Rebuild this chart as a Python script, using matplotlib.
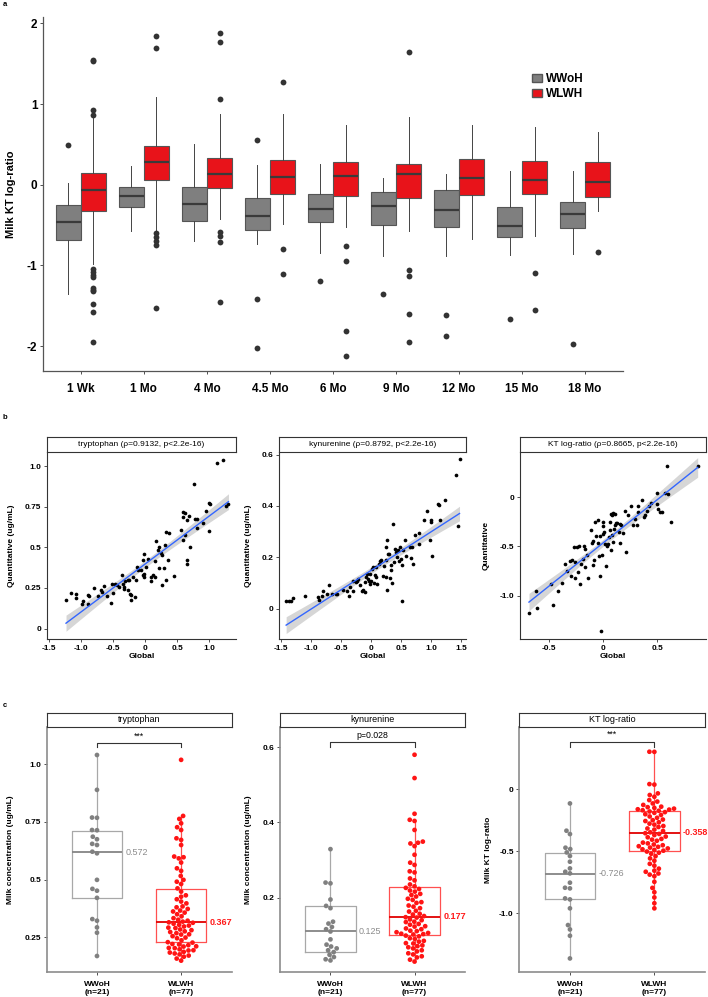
import numpy as np
import matplotlib
matplotlib.use("Agg")
import matplotlib.pyplot as plt
import matplotlib.font_manager as fm
from matplotlib.patches import Patch
import seaborn as sns

names = {f.name for f in fm.fontManager.ttflist}
fam = 'Liberation Sans Narrow' if 'Liberation Sans Narrow' in names else 'Liberation Sans'
plt.rcParams['font.family'] = [fam, 'DejaVu Sans']
plt.rcParams['axes.unicode_minus'] = False

# ---- panel a: box stats per timepoint ----
timepoints = ['1 Wk', '1 Mo', '4 Mo', '4.5 Mo', '6 Mo', '9 Mo', '12 Mo', '15 Mo', '18 Mo']
wwoh_q1 = [-0.69, -0.28, -0.45, -0.56, -0.46, -0.50, -0.52, -0.65, -0.54]
wwoh_med = [-0.46, -0.14, -0.24, -0.39, -0.30, -0.26, -0.31, -0.51, -0.36]
wwoh_q3 = [-0.25, -0.03, -0.03, -0.16, -0.12, -0.09, -0.07, -0.28, -0.21]
wwoh_lo = [-1.36, -0.58, -0.70, -0.74, -0.85, -0.88, -0.88, -0.87, -0.86]
wwoh_hi = [0.02, 0.23, 0.51, 0.24, 0.26, 0.08, 0.13, 0.17, 0.17]
wwoh_out = [[0.49], [], [], [0.56, -1.42, -2.03], [-1.19], [-1.36], [-1.62, -1.87], [-1.66], [-1.97]]
wlwh_q1 = [-0.32, 0.06, -0.04, -0.11, -0.14, -0.16, -0.13, -0.12, -0.15]
wlwh_med = [-0.07, 0.28, 0.13, 0.10, 0.11, 0.13, 0.08, 0.06, 0.04]
wlwh_q3 = [0.14, 0.48, 0.33, 0.31, 0.28, 0.26, 0.32, 0.29, 0.28]
wlwh_lo = [-0.98, -0.57, -0.42, -0.49, -0.52, -0.58, -0.67, -0.63, -0.33]
wlwh_hi = [0.83, 1.09, 0.88, 0.88, 0.74, 0.84, 0.74, 0.71, 0.66]
wlwh_out = [[0.87, 0.93, 1.53, 1.55, -1.05, -1.08, -1.12, -1.15, -1.28, -1.30, -1.32, -1.48, -1.58, -1.95],
            [1.70, 1.85, -0.60, -0.65, -0.70, -0.75, -1.53],
            [1.06, 1.77, 1.88, -0.59, -0.64, -0.71, -1.46],
            [1.28, -0.80, -1.11],
            [-0.76, -0.95, -1.82, -2.12],
            [1.64, -1.06, -1.13, -1.60, -1.95],
            [],
            [-1.10, -1.55],
            [-0.84]]

# ---- panel b: global vs quantitative ----
trp_x = [-1.238, -1.164, -1.085, -1.085, -0.989, -0.974, -0.899, -0.884, -0.894, -0.794, -0.735, -0.693,
         -0.672, -0.640, -0.593, -0.529, -0.503, -0.513, -0.471, -0.434, -0.407, -0.365, -0.354, -0.339,
         -0.328, -0.312, -0.275, -0.265, -0.249, -0.233, -0.222, -0.217, -0.196, -0.153, -0.143, -0.127,
         -0.116, -0.063, -0.037, -0.021, -0.037, -0.026, -0.011, 0.005, 0.042, 0.095, 0.095, 0.122, 0.148,
         0.164, 0.148, 0.201, 0.217, 0.217, 0.243, 0.265, 0.270, 0.291, 0.312, 0.333, 0.349, 0.323, 0.370,
         0.450, 0.561, 0.587, 0.598, 0.624, 0.598, 0.630, 0.651, 0.651, 0.651, 0.688, 0.704, 0.767, 0.783,
         0.810, 0.810, 0.899, 0.952, 1.000, 0.995, 1.021, 1.116, 1.212, 1.265, 1.302]
trp_y = [0.174, 0.219, 0.211, 0.186, 0.149, 0.170, 0.209, 0.200, 0.153, 0.252, 0.200, 0.239, 0.225, 0.264,
         0.200, 0.157, 0.221, 0.276, 0.274, 0.266, 0.256, 0.327, 0.276, 0.256, 0.245, 0.292, 0.297, 0.235,
         0.301, 0.215, 0.204, 0.174, 0.317, 0.194, 0.297, 0.378, 0.358, 0.362, 0.419, 0.460, 0.327, 0.337,
         0.317, 0.378, 0.429, 0.317, 0.290, 0.327, 0.413, 0.536, 0.317, 0.485, 0.501, 0.372, 0.468, 0.454,
         0.270, 0.372, 0.515, 0.297, 0.423, 0.597, 0.589, 0.321, 0.609, 0.546, 0.716, 0.712, 0.685, 0.573,
         0.665, 0.419, 0.399, 0.695, 0.501, 0.890, 0.675, 0.675, 0.620, 0.650, 0.726, 0.599, 0.773, 0.767,
         1.018, 1.039, 0.757, 0.767]
kyn_x = [-1.416, -1.376, -1.337, -1.309, -1.096, -0.882, -0.871, -0.815, -0.798, -0.742, -0.702, -0.646,
         -0.579, -0.562, -0.461, -0.404, -0.371, -0.360, -0.309, -0.298, -0.253, -0.242, -0.213, -0.180,
         -0.157, -0.129, -0.107, -0.096, -0.084, -0.067, -0.056, -0.039, -0.017, -0.011, 0.000, 0.017,
         0.028, 0.045, 0.056, 0.073, 0.084, 0.101, 0.124, 0.140, 0.169, 0.197, 0.213, 0.242, 0.253, 0.264,
         0.253, 0.270, 0.281, 0.292, 0.309, 0.326, 0.337, 0.348, 0.365, 0.382, 0.393, 0.421, 0.438, 0.449,
         0.461, 0.478, 0.494, 0.517, 0.522, 0.534, 0.562, 0.579, 0.646, 0.663, 0.674, 0.702, 0.730, 0.798,
         0.798, 0.882, 0.927, 0.972, 0.994, 1.000, 1.011, 1.112, 1.135, 1.152, 1.236, 1.421, 1.444, 1.472]
kyn_y = [0.032, 0.030, 0.029, 0.043, 0.052, 0.045, 0.036, 0.049, 0.069, 0.056, 0.091, 0.056, 0.056, 0.058,
         0.074, 0.068, 0.049, 0.084, 0.071, 0.110, 0.104, 0.110, 0.117, 0.091, 0.071, 0.074, 0.065, 0.104,
         0.123, 0.134, 0.117, 0.110, 0.097, 0.136, 0.108, 0.156, 0.162, 0.101, 0.130, 0.162, 0.123, 0.095,
         0.175, 0.188, 0.192, 0.129, 0.166, 0.191, 0.123, 0.266, 0.240, 0.074, 0.212, 0.212, 0.119, 0.153,
         0.169, 0.100, 0.329, 0.182, 0.231, 0.223, 0.201, 0.230, 0.188, 0.240, 0.195, 0.169, 0.030, 0.227,
         0.269, 0.204, 0.240, 0.199, 0.240, 0.175, 0.288, 0.295, 0.253, 0.344, 0.379, 0.266, 0.347, 0.338,
         0.205, 0.406, 0.403, 0.344, 0.422, 0.519, 0.321, 0.581]
kt_x = [-0.688, -0.621, -0.615, -0.485, -0.470, -0.418, -0.379, -0.355, -0.333, -0.309, -0.303, -0.288,
        -0.273, -0.258, -0.264, -0.242, -0.236, -0.227, -0.212, -0.203, -0.188, -0.182, -0.173, -0.167,
        -0.152, -0.142, -0.112, -0.106, -0.100, -0.097, -0.085, -0.076, -0.064, -0.052, -0.045, -0.036,
        -0.030, -0.027, -0.021, -0.009, -0.006, 0.000, 0.000, 0.009, 0.015, 0.021, 0.030, 0.045, 0.055,
        0.058, 0.061, 0.070, 0.070, 0.076, 0.082, 0.085, 0.091, 0.097, 0.106, 0.112, 0.121, 0.130, 0.142,
        0.152, 0.158, 0.167, 0.182, 0.197, 0.206, 0.227, 0.258, 0.273, 0.294, 0.312, 0.318, 0.324, 0.358,
        0.379, 0.388, 0.403, 0.424, 0.445, 0.494, 0.500, 0.509, 0.521, 0.539, 0.567, 0.591, 0.597, 0.627,
        0.873]
kt_y = [-1.180, -0.956, -1.122, -0.881, -1.092, -0.956, -0.868, -0.678, -0.753, -0.651, -0.800, -0.637,
        -0.508, -0.824, -0.661, -0.502, -0.763, -0.492, -0.881, -0.678, -0.627, -0.498, -0.525, -0.712,
        -0.593, -0.820, -0.332, -0.464, -0.447, -0.685, -0.644, -0.254, -0.400, -0.237, -0.468, -0.603,
        -0.797, -0.390, -1.356, -0.593, -0.254, -0.298, -0.373, -0.356, -0.475, -0.695, -0.492, -0.475,
        -0.407, -0.254, -0.339, -0.169, -0.536, -0.380, -0.180, -0.461, -0.159, -0.322, -0.169, -0.288,
        -0.264, -0.264, -0.356, -0.468, -0.271, -0.288, -0.366, -0.136, -0.553, -0.180, -0.085, -0.288,
        -0.220, -0.281, -0.095, -0.153, -0.034, -0.197, -0.186, -0.136, -0.085, -0.058, -0.068, 0.041,
        -0.119, -0.153, -0.153, 0.044, 0.312, 0.027, -0.254, 0.312]

# ---- panel c: group values ----
groups = ['WWoH', 'WLWH']
group_n = [21, 77]
trp_wwoh = [1.040, 0.889, 0.769, 0.768, 0.715, 0.714, 0.686, 0.675, 0.655, 0.650, 0.621, 0.614, 0.499,
            0.460, 0.452, 0.421, 0.329, 0.322, 0.293, 0.270, 0.169]
trp_wlwh = [1.019, 0.776, 0.763, 0.744, 0.727, 0.715, 0.679, 0.672, 0.650, 0.600, 0.597, 0.592, 0.574,
            0.549, 0.538, 0.516, 0.499, 0.491, 0.481, 0.462, 0.448, 0.432, 0.426, 0.415, 0.405, 0.397,
            0.384, 0.380, 0.373, 0.366, 0.362, 0.357, 0.350, 0.341, 0.333, 0.326, 0.322, 0.318, 0.315,
            0.313, 0.309, 0.304, 0.301, 0.297, 0.292, 0.290, 0.284, 0.281, 0.276, 0.273, 0.268, 0.263,
            0.262, 0.255, 0.249, 0.246, 0.237, 0.229, 0.227, 0.221, 0.219, 0.216, 0.211, 0.210, 0.204,
            0.203, 0.198, 0.194, 0.193, 0.187, 0.184, 0.180, 0.176, 0.171, 0.166, 0.158, 0.149]
kyn_wwoh = [0.329, 0.240, 0.238, 0.195, 0.178, 0.172, 0.136, 0.131, 0.122, 0.116, 0.110, 0.089, 0.075,
            0.070, 0.065, 0.060, 0.055, 0.048, 0.042, 0.036, 0.033]
kyn_wlwh = [0.580, 0.518, 0.423, 0.407, 0.404, 0.380, 0.349, 0.346, 0.344, 0.337, 0.314, 0.293, 0.287,
            0.270, 0.267, 0.251, 0.246, 0.235, 0.230, 0.226, 0.223, 0.219, 0.216, 0.210, 0.207, 0.203,
            0.197, 0.194, 0.188, 0.186, 0.179, 0.176, 0.172, 0.165, 0.163, 0.157, 0.155, 0.151, 0.148,
            0.147, 0.142, 0.140, 0.136, 0.135, 0.130, 0.128, 0.124, 0.123, 0.118, 0.116, 0.112, 0.111,
            0.108, 0.106, 0.104, 0.103, 0.102, 0.099, 0.097, 0.092, 0.090, 0.085, 0.083, 0.079, 0.078,
            0.073, 0.071, 0.068, 0.065, 0.060, 0.057, 0.052, 0.049, 0.044, 0.041, 0.035, 0.030]
ktr_wwoh = [-0.116, -0.336, -0.363, -0.473, -0.484, -0.511, -0.540, -0.586, -0.640, -0.667, -0.680,
            -0.755, -0.796, -0.801, -0.882, -0.890, -0.962, -1.097, -1.132, -1.183, -1.366]
ktr_wlwh = [0.301, 0.300, 0.040, 0.036, -0.035, -0.048, -0.062, -0.089, -0.101, -0.116, -0.128, -0.142,
            -0.146, -0.152, -0.158, -0.163, -0.166, -0.171, -0.175, -0.181, -0.186, -0.192, -0.203,
            -0.209, -0.221, -0.232, -0.246, -0.251, -0.258, -0.268, -0.279, -0.287, -0.298, -0.306,
            -0.318, -0.327, -0.338, -0.349, -0.356, -0.362, -0.371, -0.383, -0.389, -0.402, -0.408,
            -0.417, -0.432, -0.438, -0.447, -0.453, -0.461, -0.466, -0.472, -0.479, -0.486, -0.491,
            -0.497, -0.504, -0.513, -0.522, -0.541, -0.559, -0.578, -0.603, -0.618, -0.642, -0.658,
            -0.667, -0.681, -0.690, -0.703, -0.748, -0.797, -0.832, -0.874, -0.921, -0.962]
# box stats: (whislo, q1, med, q3, whishi)
trp_box = [(0.169, 0.421, 0.618, 0.712, 1.040), (0.149, 0.231, 0.316, 0.458, 0.776)]
kyn_box = [(0.033, 0.055, 0.110, 0.178, 0.329), (0.030, 0.101, 0.149, 0.227, 0.407)]
ktr_box = [(-1.366, -0.890, -0.685, -0.513, -0.116), (-0.962, -0.500, -0.352, -0.177, 0.301)]
trp_mean = ['0.572', '0.367']
kyn_mean = ['0.125', '0.177']
ktr_mean = ['-0.726', '-0.358']

W, H = 708, 997
fig = plt.figure(figsize=(W / 100, H / 100), dpi=100)


def px_axes(x0, y0, x1, y1):
    return fig.add_axes([x0 / W, 1 - y1 / H, (x1 - x0) / W, (y1 - y0) / H])


def style_axes(ax, col='#333333', lw=0.8):
    for s in ['top', 'right']:
        ax.spines[s].set_visible(False)
    for s in ['left', 'bottom']:
        ax.spines[s].set_color(col)
        ax.spines[s].set_linewidth(lw)
    ax.tick_params(length=2.5, width=0.6, color='#333333', pad=1.5)


def strip(x0, x1, y0, y1, label, size):
    s = px_axes(x0, y0, x1, y1)
    s.set_xticks([])
    s.set_yticks([])
    for sp in s.spines.values():
        sp.set_color('#333333')
        sp.set_linewidth(0.8)
    s.text(0.5, 0.5, label, ha='center', va='center', fontsize=size, transform=s.transAxes)


# ================= panel a =================
ax = px_axes(43, 17, 623, 371)
style_axes(ax, '#555555', 0.9)
pos = np.arange(1, len(timepoints) + 1)


def make_stats(q1, med, q3, lo, hi, out):
    return [dict(q1=a, med=b, q3=c, whislo=d, whishi=e, fliers=f)
            for a, b, c, d, e, f in zip(q1, med, q3, lo, hi, out)]


flier = dict(marker='o', markerfacecolor='#333333', markeredgecolor='none', markersize=4.2)
for st, off, fc in [(make_stats(wwoh_q1, wwoh_med, wwoh_q3, wwoh_lo, wwoh_hi, wwoh_out), -0.2, '#7f7f7f'),
                    (make_stats(wlwh_q1, wlwh_med, wlwh_q3, wlwh_lo, wlwh_hi, wlwh_out), 0.2, '#e8131a')]:
    ax.bxp(st, positions=pos + off, widths=0.39, patch_artist=True, showcaps=False,
           boxprops=dict(facecolor=fc, edgecolor='#555555', linewidth=0.8),
           medianprops=dict(color='#3a3a3a', linewidth=1.6),
           whiskerprops=dict(color='#444444', linewidth=0.7),
           flierprops=flier)
ax.set_xlim(0.4, 9.6)
ax.set_ylim(-2.31, 2.08)
ax.set_xticks(pos)
ax.set_xticklabels(timepoints, fontsize=8.5, fontweight='bold')
ax.set_yticks([2, 1, 0, -1, -2])
ax.set_yticklabels(['2', '1', '0', '-1', '-2'], fontsize=8.5, fontweight='bold')
ax.tick_params(axis='x', pad=6)
ax.set_ylabel('Milk KT log-ratio', fontsize=8, fontweight='bold')
ax.yaxis.set_label_coords((16 - 43) / 580, 0.5)
handles = [Patch(facecolor='#7f7f7f', edgecolor='#555555'), Patch(facecolor='#e8131a', edgecolor='#555555')]
ax.legend(handles, groups, loc='center left', bbox_to_anchor=(521 / W, 1 - 86.5 / H),
          bbox_transform=fig.transFigure, frameon=False, handlelength=0.9, handleheight=0.75,
          handletextpad=0.35, labelspacing=0.25, prop=dict(size=8.5, weight='bold'))

# ================= panel b =================
b_specs = [
    (46.7, 236, trp_x, trp_y, 'tryptophan (\u03c1=0.9132, p<2.2e-16)', (-1.54, 1.42), (-0.064, 1.088),
     [-1.5, -1.0, -0.5, 0, 0.5, 1.0], ['-1.5', '-1.0', '-0.5', '0', '0.5', '1.0'],
     [0, 0.25, 0.5, 0.75, 1.0], ['0', '0.25', '0.5', '0.75', '1.0'], 'Quantitative (ug/mL)', 15),
    (279.3, 466, kyn_x, kyn_y, 'kynurenine (\u03c1=0.8792, p<2.2e-16)', (-1.53, 1.58), (-0.117, 0.611),
     [-1.5, -1.0, -0.5, 0, 0.5, 1.0, 1.5], ['-1.5', '-1.0', '-0.5', '0', '0.5', '1.0', '1.5'],
     [0, 0.2, 0.4, 0.6], ['0', '0.2', '0.4', '0.6'], 'Quantitative (ug/mL)', 252),
    (520, 706, kt_x, kt_y, 'KT log-ratio (\u03c1=0.8665, p<2.2e-16)', (-0.771, 0.95), (-1.442, 0.462),
     [-0.5, 0, 0.5], ['-0.5', '0', '0.5'],
     [-1.0, -0.5, 0], ['-1.0', '-0.5', '0'], 'Quantitative', 490),
]
for x0, x1, xs, ys, title, xl, yl, xt, xtl, yt, ytl, ylab, ylab_px in b_specs:
    ax = px_axes(x0, 451.7, x1, 639)
    style_axes(ax)
    xs = np.array(xs)
    ys = np.array(ys)
    slope, icpt = np.polyfit(xs, ys, 1)
    grid = np.linspace(xs.min(), xs.max(), 80)
    resid = ys - (slope * xs + icpt)
    s_err = np.sqrt(np.sum(resid ** 2) / (len(xs) - 2))
    se = s_err * np.sqrt(1 / len(xs) + (grid - xs.mean()) ** 2 / np.sum((xs - xs.mean()) ** 2))
    fit = slope * grid + icpt
    ax.fill_between(grid, fit - 1.99 * se, fit + 1.99 * se, color='#999999', alpha=0.4, lw=0, zorder=1)
    ax.scatter(xs, ys, s=7, color='black', lw=0, zorder=2)
    ax.plot(grid, fit, color='#3366ff', lw=1.0, zorder=3)
    ax.set_xlim(xl)
    ax.set_ylim(yl)
    ax.set_xticks(xt)
    ax.set_xticklabels(xtl, fontsize=6, fontweight='bold')
    ax.set_yticks(yt)
    ax.set_yticklabels(ytl, fontsize=6, fontweight='bold')
    ax.set_xlabel('Global', fontsize=6, fontweight='bold', labelpad=1)
    ax.set_ylabel(ylab, fontsize=6, fontweight='bold')
    ax.yaxis.set_label_coords((ylab_px - x0) / (x1 - x0), 0.5)
    strip(x0, x1, 436.7, 451.7, title, 6)

# ================= panel c =================
gray_pt, red_pt = '#808080', '#ff1414'
c_specs = [
    (46.5, 231.6, trp_wwoh, trp_wlwh, trp_box, trp_mean, 'tryptophan', (0.101, 1.160),
     [0.25, 0.5, 0.75, 1.0], ['0.25', '0.5', '0.75', '1.0'], 'Milk concentration (ug/mL)', 13.5,
     (1.074, 1.091, '***', 1.12)),
    (280, 465, kyn_wwoh, kyn_wlwh, kyn_box, kyn_mean, 'kynurenine', (0.003, 0.653),
     [0.2, 0.4, 0.6], ['0.2', '0.4', '0.6'], 'Milk concentration (ug/mL)', 251.7,
     (0.6016, 0.615, 'p=0.028', 0.632)),
    (519.3, 705, ktr_wwoh, ktr_wlwh, ktr_box, ktr_mean, 'KT log-ratio', (-1.473, 0.498),
     [-1.0, -0.5, 0], ['-1.0', '-0.5', '0'], 'Milk KT log-ratio', 492,
     (0.341, 0.381, '***', 0.44)),
]
for x0, x1, g_vals, r_vals, bstats, means, title, yl, yt, ytl, ylab, ylab_px, sig in c_specs:
    ax = px_axes(x0, 727.3, x1, 971.7)
    style_axes(ax, '#8c8c8c', 1.2)
    for i, (col_edge, col_med) in enumerate([('#a8a8a8', '#858585'), ('#ff5050', '#e00000')]):
        lo, q1, med, q3, hi = bstats[i]
        ax.bxp([dict(whislo=lo, q1=q1, med=med, q3=q3, whishi=hi, fliers=[])], positions=[i],
               widths=0.6, showcaps=False, showfliers=False,
               boxprops=dict(color=col_edge, linewidth=0.9),
               medianprops=dict(color=col_med, linewidth=1.3),
               whiskerprops=dict(color=col_edge, linewidth=0.9))
    vals = list(g_vals) + list(r_vals)
    grp = [groups[0]] * len(g_vals) + [groups[1]] * len(r_vals)
    sns.swarmplot(x=grp, y=vals, order=groups, hue=grp, hue_order=groups,
                  palette=[gray_pt, red_pt], size=3.4, linewidth=0, ax=ax, legend=False, zorder=3)
    ax.text(0.34, bstats[0][2], means[0], color='#8c8c8c', fontsize=6.5, ha='left', va='center')
    ax.text(1.34, bstats[1][2], means[1], color='#ff1a1a', fontsize=6.5, fontweight='bold',
            ha='left', va='center')
    t0, t1, lab, ty = sig
    ax.plot([0, 0, 1, 1], [t0, t1, t1, t0], color='#333333', lw=0.8)
    ax.text(0.5, ty, lab, ha='center', va='center', fontsize=6.3)
    ax.set_xlim(-0.6, 1.6)
    ax.set_ylim(yl)
    ax.set_xticks([0, 1])
    ax.set_xticklabels(['%s\n(n=%d)' % (g, n) for g, n in zip(groups, group_n)],
                       fontsize=6, fontweight='bold', linespacing=1.3)
    ax.tick_params(axis='x', pad=4)
    ax.set_yticks(yt)
    ax.set_yticklabels(ytl, fontsize=6, fontweight='bold')
    ax.set_xlabel('')
    ax.set_ylabel(ylab, fontsize=6, fontweight='bold')
    ax.yaxis.set_label_coords((ylab_px - x0) / (x1 - x0), 0.5)
    strip(x0, x1, 712.7, 727.3, title, 6.5)

for lab, y in [('a', 5), ('b', 417), ('c', 705)]:
    fig.text(3 / W, 1 - y / H, lab, fontsize=5.5, fontweight='bold', ha='left', va='center')

fig.savefig('out.png', dpi=100)
